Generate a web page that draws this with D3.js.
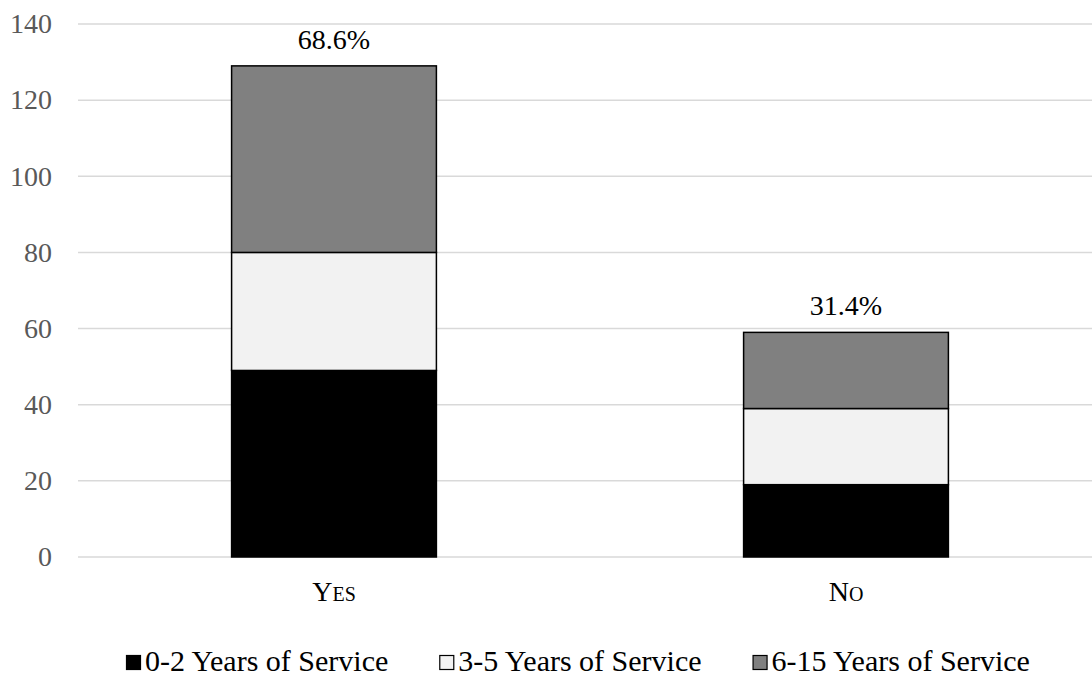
<!DOCTYPE html>
<html>
<head>
<meta charset="utf-8">
<script src="https://cdn.jsdelivr.net/npm/d3@7"></script>
<style>
  body { margin: 0; background: #fff; }
  #chart { width: 1092px; height: 677px; }
  #chart svg text { font-family: "Liberation Serif", "Times New Roman", serif; }
</style>
</head>
<body>
<div id="chart"></div>
<script>
const categories = ["Yes", "No"];
const seriesNames = ["0-2 Years of Service", "3-5 Years of Service", "6-15 Years of Service"];
const seriesColors = ["#000000", "#f2f2f2", "#808080"];
const years0to2 = [49, 19];
const years3to5 = [31, 20];
const years6to15 = [49, 20];
const totalLabels = ["68.6%", "31.4%"];
const yTicks = [0, 20, 40, 60, 80, 100, 120, 140];

const width = 1092, height = 677;
const margin = { top: 24, right: -10, bottom: 120, left: 78 };

const rows = categories.map((c, i) => ({
    cat: c,
    s0: years0to2[i], s1: years3to5[i], s2: years6to15[i]
}));
const stacked = d3.stack().keys(["s0", "s1", "s2"])(rows);

const x = d3.scaleBand()
    .domain(categories)
    .range([margin.left, width - margin.right])
    .paddingInner(0.6)
    .paddingOuter(0.3);

const y = d3.scaleLinear()
    .domain([0, 140])
    .range([height - margin.bottom, margin.top]);

const svg = d3.create("svg")
    .attr("width", width)
    .attr("height", height)
    .attr("viewBox", [0, 0, width, height]);

document.getElementById("chart").appendChild(svg.node());

// gridlines
svg.append("g")
    .selectAll("line")
    .data(yTicks)
    .join("line")
    .attr("x1", margin.left)
    .attr("x2", width)
    .attr("y1", d => y(d))
    .attr("y2", d => y(d))
    .attr("stroke", "#d9d9d9")
    .attr("stroke-width", 1.5);

// y tick labels
svg.append("g")
    .selectAll("text")
    .data(yTicks)
    .join("text")
    .attr("x", 52)
    .attr("y", d => y(d))
    .attr("dy", "0.33em")
    .attr("text-anchor", "end")
    .style("font-size", "28px")
    .style("fill", "#595959")
    .text(d => d);

// stacked bars
svg.append("g")
    .selectAll("g")
    .data(stacked)
    .join("g")
    .attr("fill", (d, i) => seriesColors[i])
    .selectAll("rect")
    .data(d => d)
    .join("rect")
    .attr("x", d => x(d.data.cat))
    .attr("width", x.bandwidth())
    .attr("y", d => y(d[1]))
    .attr("height", d => y(d[0]) - y(d[1]))
    .attr("stroke", "#000")
    .attr("stroke-width", 1.5);

// total labels
const topLayer = stacked[stacked.length - 1];
svg.append("g")
    .selectAll("text")
    .data(topLayer)
    .join("text")
    .attr("x", d => x(d.data.cat) + x.bandwidth() / 2)
    .attr("y", d => y(d[1]) - 17)
    .attr("text-anchor", "middle")
    .style("font-size", "28px")
    .style("fill", "#000")
    .text((d, i) => totalLabels[i]);

// category labels (small caps)
svg.append("g")
    .selectAll("text")
    .data(categories)
    .join("text")
    .attr("x", d => x(d) + x.bandwidth() / 2)
    .attr("y", 601)
    .attr("text-anchor", "middle")
    .style("font-size", "28px")
    .style("font-variant", "small-caps")
    .style("fill", "#000")
    .text(d => d);

// legend, laid out left to right from measured text widths
const legend = svg.append("g");
let lx = 126;
seriesNames.forEach((name, i) => {
    const g = legend.append("g").attr("transform", `translate(${lx},0)`);
    g.append("rect")
        .attr("x", 0.5)
        .attr("y", 655.5)
        .attr("width", 14)
        .attr("height", 14)
        .attr("fill", seriesColors[i])
        .attr("stroke", "#000")
        .attr("stroke-width", 1.2);
    const t = g.append("text")
        .attr("x", 19)
        .attr("y", 671)
        .style("font-size", "30px")
        .style("fill", "#000")
        .text(name);
    lx += 19 + t.node().getComputedTextLength() + 51;
});
</script>
</body>
</html>
